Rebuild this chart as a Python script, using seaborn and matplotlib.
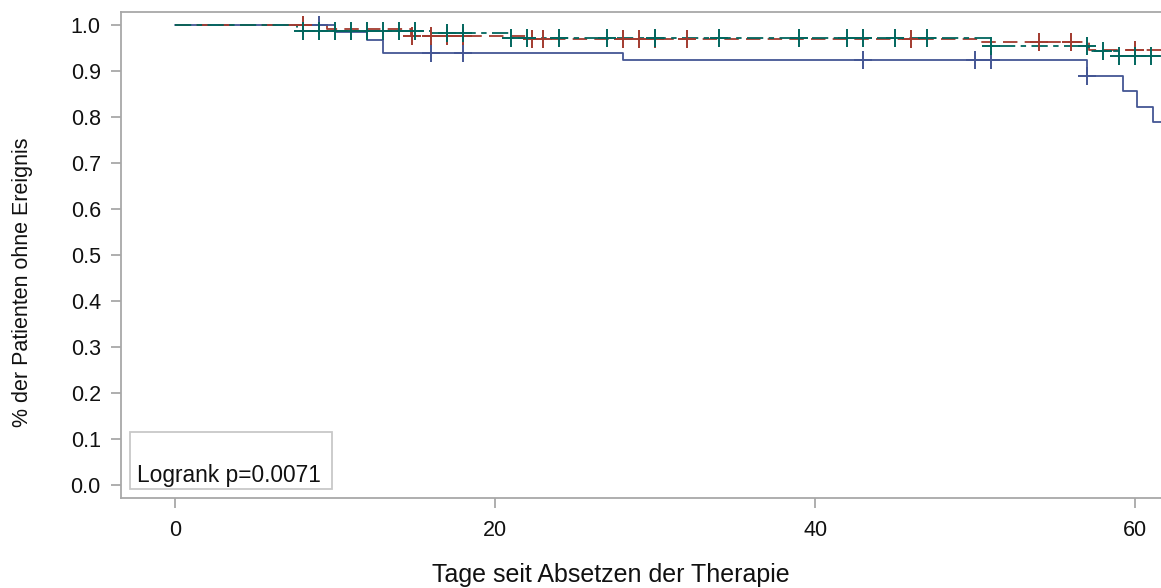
import numpy as np
import pandas as pd
import matplotlib
matplotlib.use("Agg")
import matplotlib.pyplot as plt
import seaborn as sns

# ---- data ----
groups = ["A", "B", "C"]
colors = {"A": "#445694", "B": "#A23A2E", "C": "#01665E"}

# step curves: times where the estimate changes, and the value after the change
t_A = [0, 10, 12, 13, 28, 57, 59.2, 60.1, 61.1, 61.7]
s_A = [1.0, 0.985, 0.967, 0.940, 0.924, 0.889, 0.857, 0.822, 0.790, 0.790]
c_A = [9, 16, 18, 43, 50, 51, 57]

t_B = [0, 9.5, 14.7, 22, 50.2, 57.1, 61.7]
s_B = [1.0, 0.991, 0.976, 0.970, 0.963, 0.946, 0.946]
c_B = [8, 14.8, 16, 17, 18, 22.3, 23, 28, 29, 30, 32, 46, 54, 56, 60]

t_C = [0, 7.6, 16, 21, 51, 57.1, 59, 61.7]
s_C = [1.0, 0.986, 0.982, 0.972, 0.954, 0.943, 0.932, 0.932]
c_C = [8, 9, 10, 11, 12, 13, 14, 15, 17, 18, 21, 22, 24, 27, 30, 34, 39, 42,
       43, 45, 47, 51, 57, 58, 59, 60, 61]

x_ticks = [0, 20, 40, 60]
y_ticks = [0.0, 0.1, 0.2, 0.3, 0.4, 0.5, 0.6, 0.7, 0.8, 0.9, 1.0]
x_label = "Tage seit Absetzen der Therapie"
y_label = "% der Patienten ohne Ereignis"
stat_text = "Logrank p=0.0071"

curves = {"A": (t_A, s_A, c_A), "B": (t_B, s_B, c_B), "C": (t_C, s_C, c_C)}


def step_value(ts, ss, t):
    idx = np.searchsorted(ts, t, side="right") - 1
    return ss[max(idx, 0)]


line_rows = []
cens_rows = []
for g in groups:
    ts, ss, cs = curves[g]
    for t, s in zip(ts, ss):
        line_rows.append({"t": t, "s": s, "group": g})
    for c in cs:
        cens_rows.append({"t": c, "s": step_value(ts, ss, c), "group": g})
lines = pd.DataFrame(line_rows)
cens = pd.DataFrame(cens_rows)

# ---- figure ----
sns.set_theme(style="white")
plt.rcParams["font.family"] = ["Liberation Sans", "DejaVu Sans"]

W, H = 1161, 588
fig = plt.figure(figsize=(W / 100, H / 100), dpi=100)
ax = fig.add_axes([121 / W, 1 - 498 / H, 1 - 121 / W, (498 - 12) / H])

dash_map = {"A": "", "B": (8, 4), "C": (9, 3, 3, 3)}
sns.lineplot(data=lines, x="t", y="s", hue="group", style="group",
             palette=colors, dashes=dash_map, drawstyle="steps-post",
             estimator=None, sort=False, linewidth=1.3, legend=False, ax=ax)

for g in groups:
    sub = cens[cens["group"] == g]
    sns.scatterplot(data=sub, x="t", y="s", color=colors[g], marker="+",
                    s=150, linewidth=1.4, legend=False, ax=ax, zorder=3)

ax.set_xlim(-3.4, 61.6)
ax.set_ylim(-0.028, 1.028)
ax.set_xticks(x_ticks)
ax.set_yticks(y_ticks)
ax.set_yticklabels([f"{v:.1f}" for v in y_ticks])

for side in ["left", "top", "bottom"]:
    ax.spines[side].set_visible(True)
    ax.spines[side].set_color("#A8A8A8")
    ax.spines[side].set_linewidth(1.3)
ax.spines["right"].set_visible(False)

ax.tick_params(axis="both", which="major", direction="out", length=7.5, width=1.3,
               color="#A8A8A8", labelsize=15.5, labelcolor="#111111",
               left=True, bottom=True)
ax.tick_params(axis="y", pad=7)
ax.tick_params(axis="x", pad=8)
ax.set_xlabel(x_label, fontsize=18, color="#111111")
ax.set_ylabel(y_label, fontsize=15.5, color="#111111")
ax.xaxis.set_label_coords((611 - 121) / 1040, (498 - 563) / 486)
ax.yaxis.set_label_coords((33 - 121) / 1040, (498 - 282) / 486)

# statistic box
box = plt.Rectangle((130 / W, 1 - 489 / H), 202 / W, 57 / H,
                    transform=fig.transFigure, fill=False, edgecolor="#C8C8C8",
                    linewidth=1.3, zorder=5)
fig.patches.append(box)
fig.text(137 / W, 1 - 487 / H, stat_text, fontsize=16.4, color="#111111",
         ha="left", va="bottom")

fig.savefig("out.png", dpi=100)
